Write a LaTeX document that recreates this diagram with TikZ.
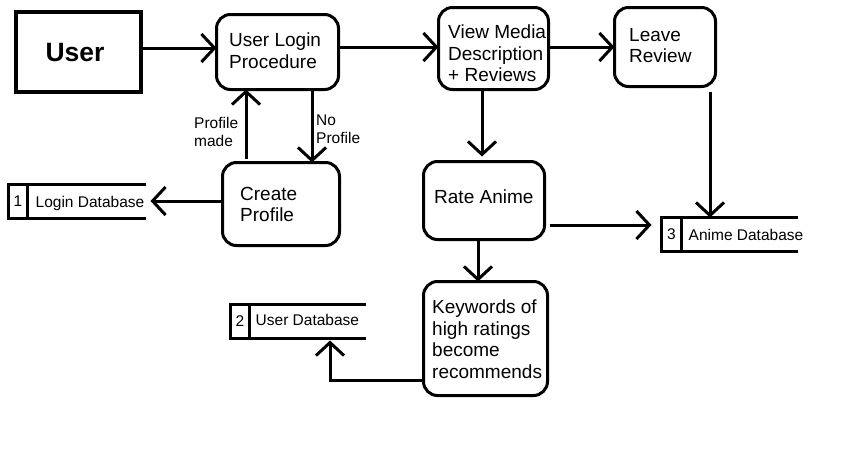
\documentclass[tikz,border=0pt]{standalone}
\usepackage{fontspec}
\setmainfont{Liberation Sans}
\usetikzlibrary{arrows.meta,calc}
\begin{document}
\begin{tikzpicture}[x=1pt,y=-1pt,
  proc/.style={draw,line width=3pt,rounded corners=14pt,inner sep=0pt,outer sep=0pt},
  ent/.style={draw,line width=4pt,inner sep=0pt,outer sep=0pt},
  store/.style={inner sep=0pt,outer sep=0pt,minimum height=34pt},
  dbline/.style={line width=3pt},
  big/.style={font=\fontsize{19}{21.5}\selectfont,inner sep=0pt,anchor=north west,align=left},
  small/.style={font=\fontsize{15.5}{18}\selectfont,inner sep=0pt},
  arr/.style={line width=3pt,-{Straight Barb[length=13pt,width=28pt]}}]
\useasboundingbox (0,0) rectangle (855,453);
% entity
\node[ent,minimum width=125pt,minimum height=80pt] (user) at (78.5,52) {};
\node[font=\fontsize{26.5}{30}\selectfont\bfseries,inner sep=0pt] (userT) at (75,53) {User};
% processes
\node[proc,minimum width=122pt,minimum height=75pt] (login) at (277.5,52) {};
\node[big] (loginT) at (229,33) {User Login\\Procedure};
\node[proc,minimum width=117pt,minimum height=83pt] (create) at (281,204) {};
\node[big] (createT) at (240,187) {Create\\Profile};
\node[proc,minimum width=110pt,minimum height=82pt] (view) at (493.5,48.5) {};
\node[big] (viewT) at (448,25) {View Media\\Description\\+ Reviews};
\node[proc,minimum width=101pt,minimum height=79pt] (leave) at (665,47) {};
\node[big] (leaveT) at (629,28) {Leave\\Review};
\node[proc,minimum width=121pt,minimum height=78pt] (rate) at (484,200.5) {};
\node[big] (rateT) at (434,190) {Rate Anime};
\node[proc,minimum width=124pt,minimum height=114pt] (keys) at (485.5,338.5) {};
\node[big] (keysT) at (432,300) {Keywords of\\high ratings\\become\\recommends};
% data stores
\node[store,minimum width=137pt] (logindb) at (77,201.5) {};
\draw[dbline] (logindb.north east) -- (logindb.north west) -- (logindb.south west) -- (logindb.south east);
\draw[dbline] ([xshift=19pt]logindb.north west) -- ([xshift=19pt]logindb.south west);
\node[small] (n1) at ([xshift=9.5pt]logindb.west) {1};
\node[small,anchor=base west] (l1) at ([xshift=27pt,yshift=-6pt]logindb.west) {Login Database};
\node[store,minimum width=136pt] (animedb) at (729.5,234.5) {};
\draw[dbline] (animedb.north east) -- (animedb.north west) -- (animedb.south west) -- (animedb.south east);
\draw[dbline] ([xshift=19.5pt]animedb.north west) -- ([xshift=19.5pt]animedb.south west);
\node[small] (n3) at ([xshift=10pt]animedb.west) {3};
\node[small,anchor=base west] (l3) at ([xshift=27pt,yshift=-6pt]animedb.west) {Anime Database};
\node[store,minimum width=136pt] (userdb) at (298,321.5) {};
\draw[dbline] (userdb.north east) -- (userdb.north west) -- (userdb.south west) -- (userdb.south east);
\draw[dbline] ([xshift=19.5pt]userdb.north west) -- ([xshift=19.5pt]userdb.south west);
\node[small] (n2) at ([xshift=10pt]userdb.west) {2};
\node[small,anchor=base west] (l2) at ([xshift=25.5pt,yshift=-4pt]userdb.west) {User Database};
% connectors
\draw[arr] (user.east |- 0,48) -- (login.west |- 0,48);
\draw[arr] (login.east |- 0,47) -- (view.west |- 0,47);
\draw[arr] (view.east |- 0,47) -- (leave.west |- 0,47);
\draw[arr] (login.south -| 312,0) -- (create.north -| 312,0);
\draw[arr,shorten <=4pt] (create.north -| 246,0) -- (login.south -| 246,0);
\draw[arr,shorten >=5pt] (create.west |- 0,201) -- (logindb.east |- 0,201);
\draw[arr,shorten >=5pt] (view.south -| 482,0) -- (rate.north -| 482,0);
\draw[arr,shorten <=5pt] (leave.south -| 710,0) -- (animedb.north -| 710,0);
\draw[arr,shorten <=5pt,shorten >=10pt] (rate.east |- 0,225) -- (animedb.west |- 0,225);
\draw[arr] (rate.south -| 478,0) -- (keys.north -| 478,0);
\draw[arr,shorten >=2pt] (keys.west |- 0,380) -| (userdb.south -| 330,0);
% labels
\node[small,anchor=north west,align=left] (noprof) at (316,115) {No\\Profile};
\node[small,anchor=north west,align=left] (made) at (194,117) {Profile\\made};
\end{tikzpicture}
\end{document}
